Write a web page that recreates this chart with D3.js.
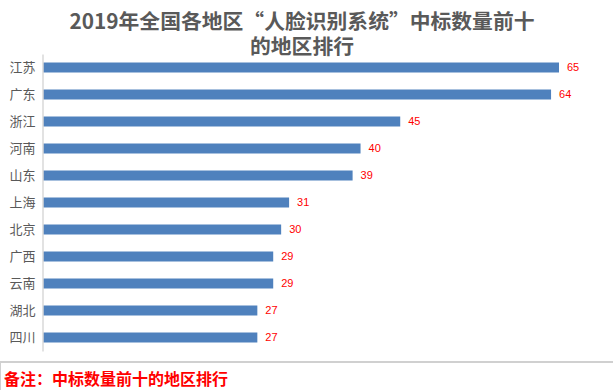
<!DOCTYPE html>
<html><head><meta charset="utf-8">
<script src="https://cdn.jsdelivr.net/npm/d3@7"></script>
<style>body{margin:0;background:#fff;} svg{display:block;}</style>
</head><body>
<script>
const categories = ["江苏","广东","浙江","河南","山东","上海","北京","广西","云南","湖北","四川"];
const values = [65,64,45,40,39,31,30,29,29,27,27];
const titleLines = ["2019年全国各地区“人脸识别系统”中标数量前十","的地区排行"];
const footnote = "备注：中标数量前十的地区排行";

const W = 613, H = 390;
const font = "'Noto Sans CJK SC', 'Noto Sans', sans-serif";
const svg = d3.select("body").append("svg").attr("width", W).attr("height", H);

const x = d3.scaleLinear().domain([0, 65]).range([43, 559]);
const y = d3.scaleBand().domain(categories).range([54, 351]).paddingInner(0.63).paddingOuter(0.315);

const title = svg.append("text")
  .attr("text-anchor","middle").attr("font-family", font)
  .attr("font-size", 20.8).attr("font-weight","bold").attr("fill","#595959");
title.selectAll("tspan").data(titleLines).join("tspan")
  .attr("x", 302).attr("y", (d,i) => 28.5 + i*25.5)
  .text(d => d);

svg.append("g").selectAll("rect").data(values).join("rect")
  .attr("x", x(0)).attr("y", (d,i) => y(categories[i]))
  .attr("width", d => x(d) - x(0)).attr("height", y.bandwidth())
  .attr("fill", "#4F81BD");

const yAxis = d3.axisLeft(y).tickSize(0).tickPadding(7);
const ga = svg.append("g").attr("transform", `translate(${x(0)-0.5},0)`).call(yAxis);
ga.select(".domain").attr("stroke","#d9d9d9").attr("stroke-width",1.5);
ga.selectAll("text").attr("font-family", font).attr("font-size", 13).attr("fill","#595959");

svg.append("g").selectAll("text").data(values).join("text")
  .attr("x", d => x(d) + 8).attr("y", (d,i) => y(categories[i]) + y.bandwidth()/2)
  .attr("dy","0.35em").attr("font-family", "'Liberation Sans', Arial, sans-serif")
  .attr("font-size", 11).attr("fill","#ff0000").text(d => d);

svg.append("line").attr("x1",0).attr("x2",W).attr("y1",362).attr("y2",362)
  .attr("stroke","#d0d0d0").attr("stroke-width",2);
svg.append("line").attr("x1",0.5).attr("x2",0.5).attr("y1",362).attr("y2",H)
  .attr("stroke","#d0d0d0").attr("stroke-width",1);

svg.append("text").attr("x",4).attr("y",385)
  .attr("font-family", font).attr("font-size",16).attr("font-weight","bold")
  .attr("fill","#ff0000").text(footnote);
</script>
</body></html>
